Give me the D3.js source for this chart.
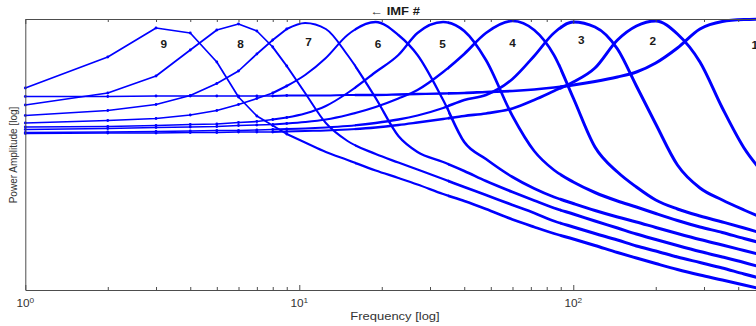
<!DOCTYPE html>
<html>
<head>
<meta charset="utf-8">
<script src="https://cdn.jsdelivr.net/npm/d3@7"></script>
<style>
  html, body { margin: 0; padding: 0; background: #fff; overflow: hidden; }
  svg { display: block; }
  text { font-family: "Liberation Sans", Arial, Helvetica, sans-serif; fill: #262626; }
</style>
</head>
<body>
<svg id="chart" width="756" height="326"></svg>
<script>
// Frequency grid shared by every IMF spectrum
const freqs = [1, 2, 3, 4, 5, 6, 7, 8, 9, 10.5, 12.5, 15, 19, 23, 27, 33.5, 40, 48, 60, 72, 85, 100, 120, 145, 170, 200, 240, 290, 350, 420, 512];

// log10 power spectrum of each IMF (0 = top of the axis)
const imf1 = [-1.55, -1.55, -1.54, -1.54, -1.54, -1.54, -1.54, -1.54, -1.53, -1.53, -1.53, -1.52, -1.52, -1.51, -1.50, -1.49, -1.48, -1.46, -1.44, -1.41, -1.37, -1.32, -1.25, -1.16, -1.06, -0.88, -0.58, -0.20, -0.05, -0.01, 0];
const imf2 = [-2.29, -2.28, -2.28, -2.27, -2.27, -2.26, -2.26, -2.26, -2.25, -2.24, -2.23, -2.21, -2.17, -2.12, -2.07, -2.00, -1.94, -1.89, -1.79, -1.62, -1.44, -1.26, -0.98, -0.42, -0.14, -0.04, -0.30, -0.86, -1.78, -2.58, -3.18];
const imf3 = [-2.27, -2.26, -2.25, -2.24, -2.23, -2.23, -2.22, -2.21, -2.20, -2.19, -2.17, -2.14, -2.08, -2.01, -1.93, -1.78, -1.62, -1.52, -1.20, -0.74, -0.28, -0.06, -0.16, -0.60, -1.34, -2.10, -2.92, -3.38, -3.62, -3.82, -4.02];
const imf4 = [-2.21, -2.19, -2.17, -2.16, -2.15, -2.13, -2.12, -2.11, -2.09, -2.06, -2.01, -1.92, -1.76, -1.59, -1.42, -1.06, -0.70, -0.28, -0.04, -0.22, -0.72, -1.58, -2.56, -3.06, -3.36, -3.62, -3.80, -3.94, -4.06, -4.18, -4.32];
const imf5 = [-2.16, -2.15, -2.13, -2.11, -2.10, -2.07, -2.05, -2.01, -1.97, -1.89, -1.74, -1.48, -1.06, -0.72, -0.28, -0.06, -0.24, -0.82, -1.94, -2.64, -3.02, -3.26, -3.47, -3.64, -3.76, -3.89, -4.03, -4.16, -4.27, -4.39, -4.51];
const imf6 = [-2.08, -2.03, -1.99, -1.92, -1.83, -1.71, -1.59, -1.48, -1.34, -1.12, -0.78, -0.32, -0.06, -0.32, -0.72, -1.62, -2.46, -2.80, -3.16, -3.39, -3.56, -3.69, -3.83, -3.96, -4.06, -4.17, -4.29, -4.41, -4.52, -4.63, -4.75];
const imf7 = [-1.93, -1.83, -1.71, -1.53, -1.29, -1.04, -0.70, -0.42, -0.20, -0.08, -0.20, -0.72, -1.58, -2.34, -2.66, -2.86, -3.04, -3.24, -3.46, -3.63, -3.78, -3.90, -4.04, -4.18, -4.30, -4.41, -4.53, -4.65, -4.76, -4.87, -5.00];
const imf8 = [-1.72, -1.48, -1.14, -0.62, -0.22, -0.10, -0.24, -0.56, -0.94, -1.48, -2.08, -2.44, -2.70, -2.87, -3.01, -3.20, -3.36, -3.52, -3.72, -3.88, -4.04, -4.16, -4.29, -4.42, -4.54, -4.64, -4.76, -4.87, -4.98, -5.10, -5.22];
const imf9 = [-1.38, -0.76, -0.18, -0.28, -0.86, -1.56, -1.94, -2.13, -2.30, -2.47, -2.66, -2.82, -3.03, -3.18, -3.31, -3.50, -3.64, -3.80, -4.01, -4.16, -4.29, -4.40, -4.53, -4.67, -4.78, -4.89, -5.01, -5.12, -5.22, -5.32, -5.43];

const spectra = [imf1, imf2, imf3, imf4, imf5, imf6, imf7, imf8, imf9];

// IMF index labels and where they sit
const imfNames = ["1", "2", "3", "4", "5", "6", "7", "8", "9"];
const labelFreq = [460, 195, 107, 60, 33.3, 19.4, 10.8, 6.1, 3.2];
const labelLevel = [-0.52, -0.45, -0.42, -0.49, -0.5, -0.5, -0.47, -0.5, -0.5];

// Axis ticks
const majorTicks = [1, 10, 100];
const majorExponents = ["0", "1", "2"];
const minorTicks = [2, 3, 4, 5, 6, 7, 8, 9, 20, 30, 40, 50, 60, 70, 80, 90, 200, 300, 400, 500];

// Stroke grows with frequency where the sampled points crowd together
const strokeTiers = [
  { from: 0.5, to: 8,   width: 1.7 },
  { from: 8,   to: 16,  width: 2.0 },
  { from: 16,  to: 35,  width: 2.3 },
  { from: 35,  to: 90,  width: 2.7 },
  { from: 90,  to: 700, width: 3.0 }
];

// integer samples up to here are joined by straight segments
const sampledLimit = 9;

const textStretch = 1.18;
const svg = d3.select("#chart");

const x = d3.scaleLog().domain([1, 512]).range([25.3, 767.6]);
const y = d3.scaleLinear().domain([-5.42, 0]).range([290, 19]);
const yTop = y.range()[1], yBottom = y.range()[0];

const defs = svg.append("defs");
strokeTiers.forEach((t, i) => {
  const x0 = Math.max(x.range()[0], x(t.from));
  const x1 = Math.min(x.range()[1], x(t.to));
  defs.append("clipPath").attr("id", "tier" + i)
    .append("rect")
    .attr("x", x0 - 0.4)
    .attr("width", x1 - x0 + 0.8)
    .attr("y", yTop - 2)
    .attr("height", yBottom - yTop + 3);
});

// Spectra: straight segments between the sparse low-frequency samples,
// smooth curve through the dense high-frequency part
const lineLow = d3.line().x(d => x(d[0])).y(d => y(d[1])).curve(d3.curveLinear);
const lineHigh = d3.line().x(d => x(d[0])).y(d => y(d[1])).curve(d3.curveMonotoneX);

const curves = svg.append("g");
spectra.forEach((s, k) => {
  const pts = freqs.map((f, i) => [f, s[i]]);
  const d = lineLow(pts.filter(p => p[0] <= sampledLimit)) +
            lineHigh(pts.filter(p => p[0] >= sampledLimit)).replace(/^M/, "L");
  strokeTiers.forEach((t, i) => {
    curves.append("path")
      .attr("d", d)
      .attr("fill", "none")
      .attr("stroke", "#0000ff")
      .attr("stroke-width", t.width)
      .attr("stroke-linejoin", "round")
      .attr("clip-path", "url(#tier" + i + ")");
  });
  curves.selectAll(null)
    .data(pts.filter(p => p[0] <= sampledLimit))
    .enter().append("circle")
    .attr("cx", p => x(p[0]))
    .attr("cy", p => y(p[1]))
    .attr("r", 1.4)
    .attr("fill", "#0000ff");
});

// Axes
const axisColor = "#4d4d4d";
function styleAxis(g) {
  g.selectAll("path").attr("stroke", axisColor).attr("stroke-width", 1);
  g.selectAll("line").attr("stroke", axisColor).attr("stroke-width", 1);
  g.selectAll("text").remove();
}
svg.append("g").attr("transform", `translate(0,${yBottom})`)
  .call(d3.axisBottom(x).tickValues(majorTicks).tickSizeInner(-5).tickSizeOuter(0).tickFormat(""))
  .call(styleAxis);
svg.append("g").attr("transform", `translate(0,${yBottom})`)
  .call(d3.axisBottom(x).tickValues(minorTicks).tickSizeInner(-3).tickSizeOuter(0).tickFormat(""))
  .call(styleAxis).call(g => g.select(".domain").remove());
svg.append("g").attr("transform", `translate(0,${yTop})`)
  .call(d3.axisTop(x).tickValues(majorTicks).tickSizeInner(-5).tickSizeOuter(0).tickFormat(""))
  .call(styleAxis);
svg.append("g").attr("transform", `translate(0,${yTop})`)
  .call(d3.axisTop(x).tickValues(minorTicks).tickSizeInner(-3).tickSizeOuter(0).tickFormat(""))
  .call(styleAxis).call(g => g.select(".domain").remove());
svg.append("g").attr("transform", `translate(${x.range()[0]},0)`)
  .call(d3.axisLeft(y).tickValues([]).tickSizeOuter(0))
  .call(styleAxis);

// Decade labels 10^n
majorTicks.forEach((t, i) => {
  const lab = svg.append("g")
    .attr("transform", `translate(${x(t)},306.5) scale(${textStretch},1)`)
    .append("text")
    .attr("text-anchor", "middle")
    .style("font-size", "10px")
    .style("fill", "#333");
  lab.append("tspan").text("10");
  lab.append("tspan").attr("dy", -4).style("font-size", "7px").text(majorExponents[i]);
});

// IMF index labels
imfNames.forEach((n, i) => {
  svg.append("g")
    .attr("transform", `translate(${x(labelFreq[i])},${y(labelLevel[i])}) scale(${textStretch},1)`)
    .append("text")
    .attr("text-anchor", "middle")
    .attr("dominant-baseline", "central")
    .style("font-size", "10px")
    .style("font-weight", "bold")
    .style("fill", "#1a1a1a")
    .text(n);
});

// Title
const title = svg.append("g")
  .attr("transform", `translate(395,15) scale(${textStretch},1)`)
  .append("text")
  .attr("text-anchor", "middle")
  .style("font-size", "11px")
  .style("font-weight", "bold")
  .style("fill", "#1a1a1a");
title.append("tspan").style("font-weight", "normal").text("\u2190");
title.append("tspan").text(" IMF #");

// Axis titles
svg.append("g")
  .attr("transform", `translate(395,320) scale(${textStretch},1)`)
  .append("text")
  .attr("text-anchor", "middle")
  .style("font-size", "11px")
  .style("fill", "#333")
  .text("Frequency [log]");

svg.append("g")
  .attr("transform", `translate(16.7,155) scale(${textStretch},1) rotate(-90)`)
  .append("text")
  .attr("text-anchor", "middle")
  .style("font-size", "10px")
  .style("fill", "#333")
  .text("Power Amplitude [log]");
</script>
</body>
</html>
